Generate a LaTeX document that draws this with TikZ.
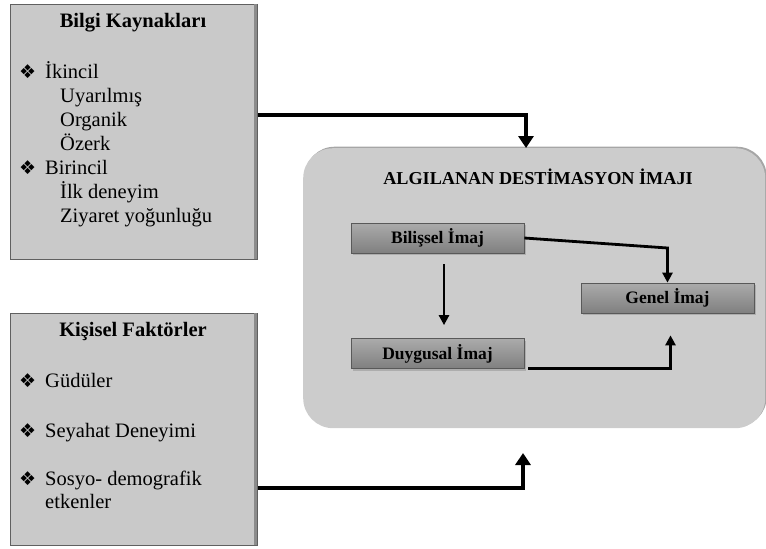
\documentclass[tikz,border=0pt]{standalone}
\usepackage{fontspec}
\setmainfont{Liberation Serif}
\newfontfamily\symfont{DejaVu Sans}
\usetikzlibrary{arrows.meta,calc,shadows}
\begin{document}
\begin{tikzpicture}[x=1pt,y=-1pt,
  panel/.style={draw=gray!75!black,line width=0.8pt,fill=black!21,inner sep=0pt,anchor=north west},
  bigpanel/.style={fill=black!20,rounded corners=30pt,inner sep=0pt,anchor=north west,
    drop shadow={shadow xshift=1.5pt,shadow yshift=1.5pt,opacity=0.35,fill=black}},
  imgbox/.style={draw=black!65,line width=0.7pt,top color=black!33,bottom color=black!50,
    minimum width=173pt,minimum height=30pt,inner sep=0pt,
    font=\fontsize{17.5}{20}\selectfont\bfseries,
    drop shadow={shadow xshift=1.5pt,shadow yshift=-2pt,opacity=0.4}},
  head/.style={font=\fontsize{20.5}{24}\selectfont\bfseries,anchor=base},
  item/.style={font=\fontsize{20.5}{24}\selectfont,anchor=base west,inner sep=0pt},
  bul/.style={font=\symfont\fontsize{19}{20}\selectfont,anchor=base west,inner sep=0pt},
  thick arrow/.style={line width=4pt,-{Triangle[width=15pt,length=12pt]}},
  thin arrow/.style={line width=2.8pt,-{Triangle[width=10pt,length=10pt]}}]
\useasboundingbox (0,0) rectangle (766,549);

% left panels
\node[panel,minimum width=247pt,minimum height=255pt] (src) at (10,4) {};
\node[panel,minimum width=247pt,minimum height=232pt] (pers) at (10,313) {};
\fill[black!45] ($(src.north east)+(-4,0.4)$) rectangle ($(src.south east)+(-0.4,-0.4)$);
\fill[black!45] ($(pers.north east)+(-4,0.4)$) rectangle ($(pers.south east)+(-0.4,-0.4)$);

% information sources
\node[head] (srct) at (133,27) {Bilgi Kaynakları};
\node[bul]  (s1b) at (19,78) {❖};
\node[item] (s1)  at (45,78) {İkincil};
\node[item] (s11) at (60,102) {Uyarılmış};
\node[item] (s12) at (60,126) {Organik};
\node[item] (s13) at (60,150) {Özerk};
\node[bul]  (s2b) at (19,174) {❖};
\node[item] (s2)  at (45,174) {Birincil};
\node[item] (s21) at (60,198) {İlk deneyim};
\node[item] (s22) at (60,222) {Ziyaret yoğunluğu};

% personal factors
\node[head] (perst) at (133,336) {Kişisel Faktörler};
\node[bul]  (p1b) at (19,387) {❖};
\node[item] (p1)  at (45,387) {Güdüler};
\node[bul]  (p2b) at (19,437) {❖};
\node[item] (p2)  at (45,437) {Seyahat Deneyimi};
\node[bul]  (p3b) at (19,485) {❖};
\node[item] (p3)  at (45,485) {Sosyo- demografik};
\node[item] (p3c) at (45,508) {etkenler};

% perceived destination image
\node[bigpanel,minimum width=462pt,minimum height=280pt] (img) at (303,148) {};
\node[font=\fontsize{18.2}{22}\selectfont\bfseries,anchor=base] (imgt) at (538,184)
  {ALGILANAN DESTİMASYON İMAJI};
\node[imgbox] (cog) at (437.5,238) {Bilişsel İmaj};
\node[imgbox] (aff) at (437.5,353.5) {Duygusal İmaj};
\node[imgbox] (gen) at (667.5,298) {Genel İmaj};

% connectors
\draw[thick arrow] (src.east |- 0,115) -| (526,0 |- img.north);
\draw[thick arrow] (pers.east |- 0,488) -| (523,453);
\draw[thin arrow] ($(cog.south)+(6.5,11)$) -- ($(aff.north)+(6.5,-13)$);
\draw[thin arrow] (cog.east) -- (gen.north |- 0,248) -- (gen.north);
\draw[thin arrow] ($(aff.south east)+(4,0)$) -| ($(gen.south)+(3,22)$);
\end{tikzpicture}
\end{document}
